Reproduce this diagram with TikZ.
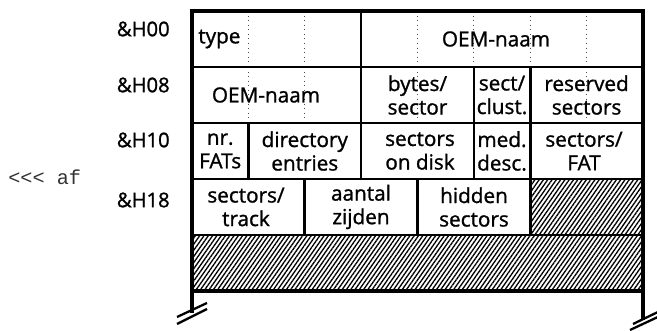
\documentclass[tikz,border=0pt]{standalone}
\usepackage{fontspec}
\setsansfont{Open Sans}[RawFeature={embolden=1.2}]
\setmonofont{Liberation Mono}
\usepackage{xcolor}
\usetikzlibrary{patterns.meta}

\begin{document}
\begin{tikzpicture}[
  x=0.02cm, y=-0.02cm,
  line join=miter,
  every node/.style={font=\sffamily\fontsize{11.8}{13.4}\selectfont, align=center, inner sep=0pt},
  rule/.style={line width=1.5pt},
  frame/.style={line width=1.8pt},
  bytesep/.style={gray!60!black, dotted, line width=0.6pt},
  hatch/.style={pattern={Lines[angle=55,distance=2pt,line width=0.75pt]}},
  offset/.style={anchor=east, font=\sffamily\fontsize{11.5}{12}\selectfont}
]
  \useasboundingbox (0,0) rectangle (657,331);

  % byte columns (x0..x8) and rows (y0..y5)
  \foreach \i in {0,...,8}{
    \coordinate (x\i) at ({192+56.375*\i}, 0);
  }
  \coordinate (y0) at (0, 11);
  \coordinate (y1) at (0, 67);
  \coordinate (y2) at (0,123);
  \coordinate (y3) at (0,179);
  \coordinate (y4) at (0,235);
  \coordinate (y5) at (0,291);

  % free ends of the two legs
  \coordinate (legL) at (192,313);
  \coordinate (legR) at (643,320);

  % unused areas (hatched)
  \fill[hatch] (x6|-y3) rectangle (x8|-y4);
  \fill[hatch] (x0|-y4) rectangle (x8|-y5);

  % byte separators inside rows 1 and 2 (dotted)
  \foreach \c in {x1,x2,x4,x5,x6,x7}{
    \draw[bytesep] (\c|-y0) -- (\c|-y1);
  }
  \foreach \c in {x1,x2,x4,x7}{
    \draw[bytesep] (\c|-y1) -- (\c|-y2);
  }

  % row rules
  \foreach \r in {y1,y2,y3,y4}{
    \draw[rule] (x0|-\r) -- (x8|-\r);
  }

  % field borders
  \draw[rule] (x3|-y0) -- (x3|-y1);
  \foreach \c in {x3,x5,x6}{
    \draw[rule] (\c|-y1) -- (\c|-y2);
  }
  \foreach \c in {x1,x3,x5,x6}{
    \draw[rule] (\c|-y2) -- (\c|-y3);
  }
  \foreach \c in {x2,x4,x6}{
    \draw[rule] (\c|-y3) -- (\c|-y4);
  }

  % outer frame with legs
  \draw[frame] (x0|-y0) rectangle (x8|-y5);
  \draw[frame] (x0|-y5) -- (legL);
  \draw[frame] (x8|-y5) -- (legR);

  % break marks at the legs
  \draw[line width=1.3pt] (177,317) -- (207,303);
  \draw[line width=1.3pt] (177,324) -- (207,309);
  \draw[line width=1.3pt] (630,330) -- (660,316);
  \draw[line width=1.3pt] (633,324) -- (660,311);

  % offsets
  \node[offset] (h00) at (170, 29) {\&H00};
  \node[offset] (h08) at (170, 85) {\&H08};
  \node[offset] (h10) at (170,140) {\&H10};
  \node[offset] (h18) at (170,200) {\&H18};

  \node[anchor=west, font=\ttfamily\fontsize{11.5}{12}\selectfont, text=black!80] (back) at (8,177) {<{}<{}< af};

  % row 1
  \node[anchor=west] (ftype) at (198, 39) {type};
  \node (foem1) at (496, 39) {OEM-naam};

  % row 2
  \node (foem2) at (266, 95) {OEM-naam};
  \node (fbps)  at (417.5, 95) {bytes/\\sector};
  \node (fspc)  at (502, 95) {sect/\\clust.};
  \node (fres)  at (586.6, 95) {reserved\\sectors};

  % row 3
  \node (fnfat) at (220.2,151) {nr.\\FATs};
  \node (fdir)  at (304.8,151) {directory\\entries};
  \node (fsec)  at (420,151) {sectors\\on disk};
  \node (fmed)  at (502,151) {med.\\desc.};
  \node (fspf)  at (584,151) {sectors/\\FAT};

  % row 4
  \node (fspt)  at (246,207) {sectors/\\track};
  \node (fsid)  at (361,207) {aantal\\zijden};
  \node (fhid)  at (474,207) {hidden\\sectors};
\end{tikzpicture}
\end{document}
